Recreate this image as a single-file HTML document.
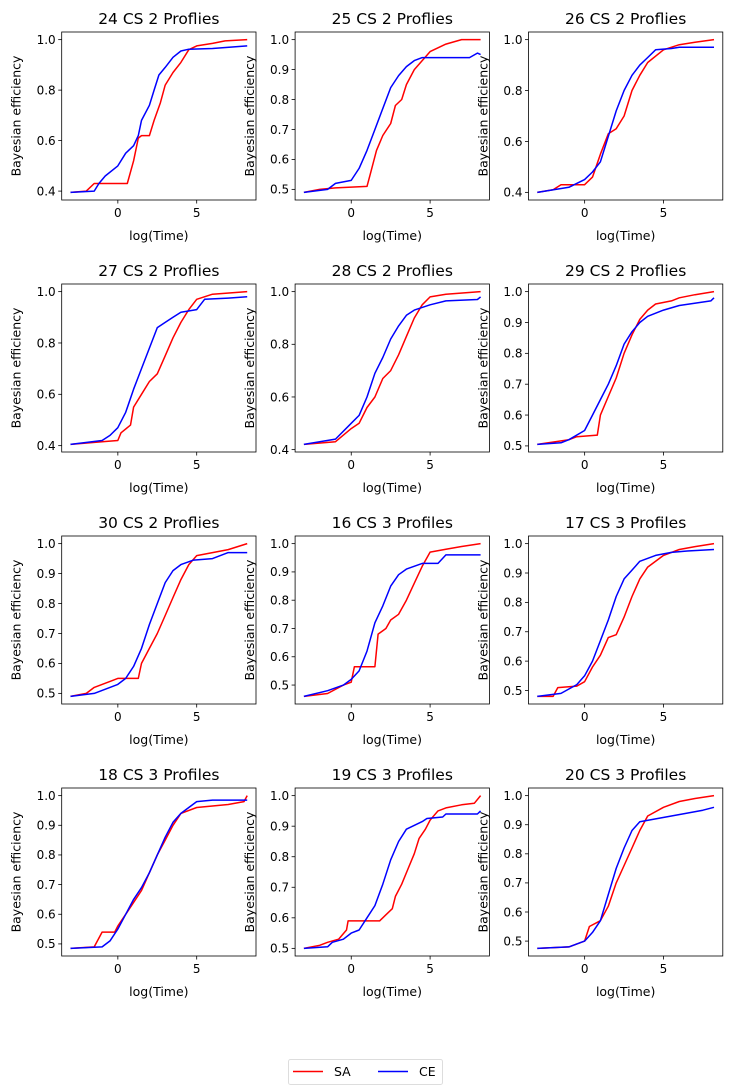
<!DOCTYPE html>
<html><head><meta charset="utf-8"><style>
html,body{margin:0;padding:0;background:#fff;}
svg{display:block;font-family:"DejaVu Sans","Liberation Sans",sans-serif;}
</style></head><body>
<svg id="fig" width="730" height="1091" viewBox="0 0 730 1091" xmlns="http://www.w3.org/2000/svg">
<rect width="730" height="1091" fill="#fff"/>
<g id="legend">
<rect x="288.5" y="1059.5" width="154" height="25" rx="2" fill="#fff" stroke="#ddd"/>
<line x1="293" y1="1071.5" x2="323" y2="1071.5" stroke="#ff0000" stroke-width="1.5"/>
<text x="334" y="1076" font-size="12.5">SA</text>
<line x1="378" y1="1071.5" x2="408" y2="1071.5" stroke="#0000ff" stroke-width="1.5"/>
<text x="419" y="1076" font-size="12.5">CE</text>
</g>
</svg>
<script>
const titles = ["24 CS 2 Proflies","25 CS 2 Proflies","26 CS 2 Proflies","27 CS 2 Proflies","28 CS 2 Proflies","29 CS 2 Proflies","30 CS 2 Proflies","16 CS 3 Profiles","17 CS 3 Profiles","18 CS 3 Profiles","19 CS 3 Profiles","20 CS 3 Profiles"];
const yTicks = [[0.4,0.6,0.8,1.0],[0.5,0.6,0.7,0.8,0.9,1.0],[0.4,0.6,0.8,1.0],[0.4,0.6,0.8,1.0],[0.4,0.6,0.8,1.0],[0.5,0.6,0.7,0.8,0.9,1.0],[0.5,0.6,0.7,0.8,0.9,1.0],[0.5,0.6,0.7,0.8,0.9,1.0],[0.5,0.6,0.7,0.8,0.9,1.0],[0.5,0.6,0.7,0.8,0.9,1.0],[0.5,0.6,0.7,0.8,0.9,1.0],[0.5,0.6,0.7,0.8,0.9,1.0]];
const xTicks = [0,5];
const xDomain = [-3.56, 8.76];
const saSeries = [
[[-3,0.395],[-2,0.40],[-1.5,0.43],[0.6,0.43],[1.0,0.52],[1.3,0.61],[1.5,0.62],[2.0,0.62],[2.3,0.68],[2.7,0.75],[3.0,0.82],[3.5,0.87],[4.0,0.91],[4.5,0.96],[5,0.975],[6,0.985],[6.8,0.995],[8.2,1.0]],
[[-3,0.49],[-2,0.50],[-1,0.505],[1,0.51],[1.2,0.55],[1.6,0.63],[2,0.68],[2.5,0.72],[2.8,0.78],[3.2,0.80],[3.5,0.85],[4,0.90],[4.5,0.93],[5,0.96],[6,0.985],[7,1.0],[8.2,1.0]],
[[-3,0.40],[-2,0.41],[-1.5,0.43],[0,0.43],[0.5,0.46],[1,0.55],[1.5,0.63],[2,0.65],[2.5,0.70],[3,0.80],[3.5,0.86],[4,0.91],[5,0.96],[6,0.98],[7,0.99],[8.2,1.0]],
[[-3,0.405],[-1,0.415],[0,0.42],[0.2,0.45],[0.8,0.48],[1,0.55],[1.5,0.60],[2,0.65],[2.5,0.68],[3,0.75],[3.5,0.82],[4,0.88],[4.5,0.93],[5,0.97],[6,0.99],[8.2,1.0]],
[[-3,0.42],[-1,0.43],[0,0.48],[0.5,0.50],[1,0.56],[1.5,0.60],[2,0.67],[2.5,0.70],[3,0.76],[3.5,0.83],[4,0.90],[4.5,0.95],[5,0.98],[6,0.99],[8.2,1.0]],
[[-3,0.505],[-1,0.52],[-0.5,0.53],[0.8,0.535],[1,0.60],[1.5,0.66],[2,0.72],[2.5,0.80],[3,0.86],[3.5,0.91],[4,0.94],[4.5,0.96],[5.5,0.97],[6,0.98],[7,0.99],[8.2,1.0]],
[[-3,0.49],[-2,0.50],[-1.5,0.52],[-0.5,0.54],[0,0.55],[1.3,0.55],[1.5,0.60],[2,0.65],[2.5,0.70],[3,0.76],[3.5,0.82],[4,0.88],[4.5,0.93],[5,0.96],[6,0.97],[7,0.98],[8.2,1.0]],
[[-3,0.46],[-1.5,0.47],[-0.5,0.50],[0,0.51],[0.2,0.565],[1.5,0.565],[1.7,0.68],[2.2,0.70],[2.5,0.73],[3,0.75],[3.5,0.80],[4,0.86],[4.5,0.92],[5,0.97],[6,0.98],[7,0.99],[8.2,1.0]],
[[-3,0.48],[-2,0.48],[-1.7,0.51],[-0.5,0.515],[0,0.53],[0.5,0.58],[1,0.62],[1.5,0.68],[2,0.69],[2.5,0.75],[3,0.82],[3.5,0.88],[4,0.92],[5,0.96],[6,0.98],[7,0.99],[8.2,1.0]],
[[-3,0.485],[-1.5,0.49],[-1,0.54],[-0.2,0.54],[0,0.56],[0.5,0.60],[1,0.64],[1.5,0.68],[2,0.74],[2.5,0.80],[3,0.85],[3.5,0.90],[4,0.94],[5,0.96],[7,0.97],[8,0.98],[8.2,1.0]],
[[-3,0.50],[-2,0.51],[-1.5,0.52],[-0.8,0.53],[-0.3,0.56],[-0.2,0.59],[1.8,0.59],[2.2,0.61],[2.6,0.63],[2.8,0.67],[3.2,0.71],[3.6,0.76],[4,0.81],[4.3,0.86],[4.7,0.89],[5,0.92],[5.5,0.95],[6,0.96],[7,0.97],[7.8,0.975],[8.2,1.0]],
[[-3,0.475],[-1,0.48],[0,0.50],[0.3,0.55],[1,0.57],[1.5,0.62],[2,0.70],[2.5,0.76],[3,0.82],[3.5,0.88],[4,0.93],[5,0.96],[6,0.98],[7,0.99],[8.2,1.0]]
];
const ceSeries = [
[[-3,0.395],[-1.5,0.40],[-1.2,0.43],[-0.8,0.46],[0,0.50],[0.5,0.55],[1.0,0.58],[1.3,0.62],[1.5,0.68],[2,0.74],[2.3,0.80],[2.6,0.86],[3,0.89],[3.5,0.93],[4,0.955],[4.5,0.962],[6,0.965],[8.2,0.975]],
[[-3,0.49],[-1.5,0.50],[-1,0.52],[0,0.53],[0.5,0.57],[1,0.63],[1.5,0.70],[2,0.77],[2.5,0.84],[3,0.88],[3.5,0.91],[4,0.93],[4.5,0.94],[7.5,0.94],[8,0.955],[8.2,0.95]],
[[-3,0.40],[-1,0.42],[0,0.45],[0.5,0.48],[1,0.52],[1.5,0.62],[2,0.72],[2.5,0.80],[3,0.86],[3.5,0.90],[4,0.93],[4.5,0.96],[5.5,0.965],[6,0.97],[8.2,0.97]],
[[-3,0.405],[-1,0.42],[-0.5,0.44],[0,0.47],[0.5,0.53],[1,0.62],[1.5,0.70],[2,0.78],[2.5,0.86],[3,0.88],[3.5,0.90],[4,0.92],[5,0.93],[5.5,0.97],[7,0.975],[8.2,0.98]],
[[-3,0.42],[-1,0.44],[0,0.50],[0.5,0.53],[1,0.60],[1.5,0.69],[2,0.75],[2.5,0.82],[3,0.87],[3.5,0.91],[4,0.93],[5,0.95],[6,0.965],[8,0.97],[8.2,0.98]],
[[-3,0.505],[-1.5,0.51],[-1,0.52],[0,0.55],[0.5,0.60],[1,0.65],[1.5,0.70],[2,0.76],[2.5,0.83],[3,0.87],[3.5,0.90],[4,0.92],[5,0.94],[6,0.955],[8,0.97],[8.2,0.98]],
[[-3,0.49],[-1.5,0.50],[-1,0.51],[0,0.53],[0.5,0.55],[1,0.59],[1.5,0.65],[2,0.73],[2.5,0.80],[3,0.87],[3.5,0.91],[4,0.93],[4.8,0.945],[6,0.95],[7,0.97],[8.2,0.97]],
[[-3,0.46],[-1.5,0.48],[-0.5,0.50],[0,0.52],[0.5,0.55],[1,0.62],[1.5,0.72],[2,0.78],[2.5,0.85],[3,0.89],[3.5,0.91],[4.5,0.93],[5.5,0.93],[6,0.96],[8.2,0.96]],
[[-3,0.48],[-1.5,0.49],[-0.5,0.52],[0,0.55],[0.5,0.60],[1,0.67],[1.5,0.74],[2,0.82],[2.5,0.88],[3,0.91],[3.5,0.94],[4.5,0.96],[5.5,0.97],[6.5,0.975],[8.2,0.98]],
[[-3,0.485],[-1,0.49],[-0.5,0.51],[0,0.55],[0.5,0.60],[1,0.65],[1.5,0.69],[2,0.74],[2.5,0.80],[3,0.86],[3.5,0.91],[4,0.94],[4.5,0.96],[5,0.98],[6,0.985],[8.2,0.985]],
[[-3,0.50],[-1.5,0.505],[-1.2,0.52],[-0.5,0.53],[0,0.55],[0.5,0.56],[1,0.60],[1.5,0.64],[2,0.71],[2.5,0.79],[3,0.85],[3.5,0.89],[4.5,0.915],[4.8,0.925],[5.8,0.93],[6,0.94],[8,0.94],[8.2,0.95]],
[[-3,0.475],[-1,0.48],[0,0.50],[0.5,0.53],[1,0.57],[1.5,0.66],[2,0.75],[2.5,0.82],[3,0.88],[3.5,0.91],[4.5,0.92],[5.5,0.93],[6.5,0.94],[7.5,0.95],[8.2,0.96]]
];

const NS = "http://www.w3.org/2000/svg";
const fig = document.getElementById('fig');
function mk(tag, attrs, parent){ const e = document.createElementNS(NS, tag); for (const k in attrs) e.setAttribute(k, attrs[k]); parent.appendChild(e); return e; }

const FW = 194.3, FH = 168;
for (let i = 0; i < 12; i++) {
  const col = i % 3, row = Math.floor(i / 3);
  const L = 61.7 + col * 233.4, T = 32 + row * 252;
  const g = mk('g', {}, fig);
  
  
  const all = saSeries[i].concat(ceSeries[i]);
  const ys = all.map(p => p[1]);
  const ymin = Math.min(...ys), ymax = Math.max(...ys);
  const ym = (ymax - ymin) * 0.05;
  const xa = xDomain[0], xb = xDomain[1], ya = ymin - ym, yb = ymax + ym;
  const sx = v => L + (v - xa) / (xb - xa) * FW;
  const sy = v => T + FH - (v - ya) / (yb - ya) * FH;
  [[saSeries[i], '#ff0000', 'sa-line'], [ceSeries[i], '#0000ff', 'ce-line']].forEach(([d, c, n]) => {
    const pl = mk('polyline', {points: d.map(p => sx(p[0]).toFixed(1) + ',' + sy(p[1]).toFixed(1)).join(' '), fill: 'none', stroke: c, 'stroke-width': 1.5, 'stroke-linejoin': 'round'}, g);
    
    
  });
  const fr = mk('rect', {x: L, y: T, width: FW, height: FH, fill: 'none', stroke: '#000', 'stroke-width': 0.8}, g);
  
  
  yTicks[i].forEach(t => {
    const y = sy(t);
    mk('line', {x1: L - 3.5, x2: L, y1: y, y2: y, stroke: '#000', 'stroke-width': 0.8}, g);
    const tx = mk('text', {x: L - 6, y: y + 4.3, 'text-anchor': 'end', 'font-size': 12}, g);
    
    
    tx.textContent = t.toFixed(1);
  });
  xTicks.forEach(t => {
    const x = sx(t);
    mk('line', {x1: x, x2: x, y1: T + FH, y2: T + FH + 3.5, stroke: '#000', 'stroke-width': 0.8}, g);
    const tx = mk('text', {x: x, y: T + FH + 17, 'text-anchor': 'middle', 'font-size': 12}, g);
    
    
    tx.textContent = t;
  });
  const ti = mk('text', {x: L + FW / 2, y: T - 8, 'text-anchor': 'middle', 'font-size': 15.5}, g);
  
  
  ti.textContent = titles[i];
  const xl = mk('text', {x: L + FW / 2, y: T + FH + 40, 'text-anchor': 'middle', 'font-size': 12.5}, g);
  
  
  xl.textContent = 'log(Time)';
  const cx = L - 41, cy = T + FH / 2;
  const yl = mk('text', {x: cx, y: cy, 'text-anchor': 'middle', 'font-size': 12.5, transform: 'rotate(-90 ' + cx + ' ' + cy + ')'}, g);
  
  
  yl.textContent = 'Bayesian efficiency';
}
fig.appendChild(document.getElementById('legend'));
</script>
</body></html>
